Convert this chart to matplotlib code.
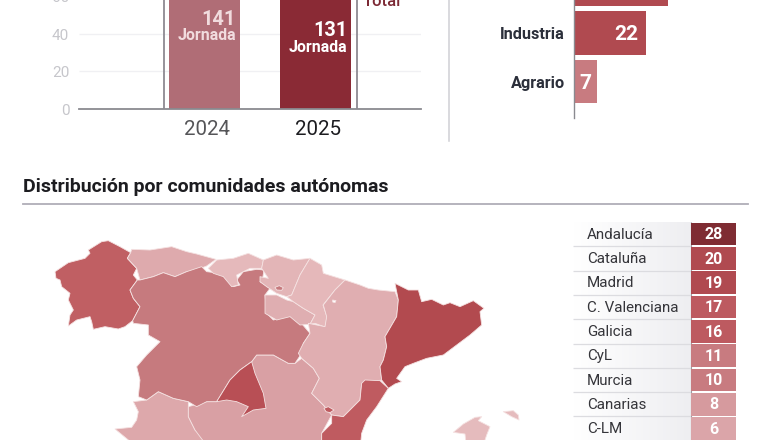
#!/usr/bin/env python3

import numpy as np
import matplotlib
matplotlib.use("Agg")
import matplotlib.pyplot as plt
from matplotlib.colors import LinearSegmentedColormap
from matplotlib.patches import Polygon

plt.rcParams["font.family"] = ["Roboto", "DejaVu Sans"]

W, H = 780, 440

# column chart
YEARS = ["2024", "2025"]
JORNADA = [141, 131]
TOTAL_TICKS = [0, 20, 40, 60]

# sector bars (top one is cut off by the crop)
SECTORS = ["", "Industria", "Agrario"]
SECTOR_VALUES = [29, 22, 7]
SECTOR_COLORS = ["#b04a50", "#b04a50", "#c87b80"]

# table
REGIONS = ["Andalucía", "Cataluña", "Madrid", "C. Valenciana", "Galicia",
           "CyL", "Murcia", "Canarias", "C-LM"]
REGION_VALUES = [28, 20, 19, 17, 16, 11, 10, 8, 6]
REGION_COLORS = ["#7f2c33", "#b04a50", "#b04a50", "#bd5a60", "#bd5a60",
                 "#c87b80", "#c87b80", "#d69a9e", "#dba5a9"]

# map outlines, traced in zoomed crop pixels (3x) with the crop origin
Z4 = (40, 230)
Z5 = (280, 230)
Z8 = (200, 245)

GALICIA = [(45, 125), (85, 98), (135, 85), (150, 70), (145, 60), (185, 35), (205, 32), (240, 50),
           (272, 68), (262, 85), (290, 115), (280, 135), (292, 150), (270, 180), (280, 205),
           (300, 230), (278, 272), (255, 290), (235, 297), (195, 290), (160, 298), (155, 275),
           (150, 260), (110, 270), (85, 288), (90, 255), (100, 240), (85, 210), (90, 190),
           (65, 170), (60, 150), (48, 145)]
ASTURIAS = [(272, 68), (275, 58), (330, 60), (395, 50), (440, 65), (470, 72), (528, 88), (500, 108),
            (470, 120), (440, 125), (405, 140), (370, 128), (340, 140), (300, 150), (290, 115),
            (262, 85)]
CYL = [(292, 150), (300, 150), (340, 140), (370, 128), (405, 140), (440, 125), (485, 110), (500, 125),
       (540, 130), (565, 150), (580, 170), (600, 165), (590, 150), (610, 125), (650, 118), (672, 120),
       (668, 145), (660, 155), (690, 175), (675, 195), (680, 250), (700, 270), (720, 265), (750, 258),
       (780, 275), (810, 310), (790, 340), (785, 370), (765, 400), (745, 400), (700, 375), (650, 375),
       (635, 395), (600, 420), (570, 450), (530, 515), (500, 515), (470, 530), (445, 515), (400, 505),
       (355, 485), (320, 510), (295, 500), (300, 450), (290, 410), (320, 375), (360, 335), (325, 315),
       (325, 285), (280, 280), (278, 272), (300, 230), (280, 205), (270, 180)]
MADRID = [(635, 395), (645, 430), (670, 490), (678, 535), (640, 540), (605, 560), (625, 530),
          (590, 515), (560, 510), (530, 515), (570, 450), (600, 420)]
EXTREMADURA = [(280, 515), (320, 510), (355, 485), (400, 505), (445, 515), (445, 560), (465, 600),
               (510, 640), (510, 660), (290, 660), (265, 630), (225, 597), (275, 592), (290, 570),
               (295, 545)]
CLM = [(445, 530), (500, 515), (530, 515), (635, 395), (650, 375), (700, 375), (745, 400), (765, 400),
       (785, 385), (820, 415), (838, 445), (815, 490), (850, 525), (875, 555), (845, 610),
       (845, 660), (510, 660), (465, 600), (445, 560)]
CANTABRIA = [(25, 70), (50, 45), (100, 40), (145, 25), (190, 45), (185, 70), (150, 70), (110, 90),
             (115, 120), (95, 125), (70, 95), (40, 85)]
PAIS_VASCO = [(190, 45), (230, 30), (280, 45), (330, 40), (300, 90), (275, 150), (260, 155), (230, 145),
              (200, 125), (180, 110), (180, 95), (205, 100), (185, 70)]
TREVINO = [(225, 127), (238, 122), (250, 128), (245, 136), (230, 135)]
RIOJA = [(195, 150), (230, 150), (260, 165), (280, 170), (310, 190), (345, 210), (330, 238), (300, 240),
         (270, 215), (230, 225), (195, 205)]
NAVARRA = [(330, 40), (365, 60), (370, 85), (435, 105), (405, 135), (369, 180), (381, 216), (375, 246),
           (345, 235), (330, 238), (345, 210), (310, 190), (280, 170), (260, 155), (275, 150), (300, 90)]
ARAGON = [(195, 150), (240, 165), (265, 175), (295, 180), (345, 185), (355, 210), (350, 260), (315, 320),
          (320, 350), (310, 390), (300, 410), (305, 450), (245, 460), (240, 510), (190, 560), (155, 555),
          (130, 525), (95, 490), (118, 445), (100, 415), (65, 385), (55, 370), (70, 340), (90, 310),
          (85, 280), (135, 290), (140, 260), (130, 225), (165, 180)]
ARAGON_HOLE = [(158, 210), (168, 212), (165, 218), (158, 216)]
CATALUNA = [(345, 160), (385, 180), (415, 180), (425, 215), (455, 208), (490, 225), (510, 218), (540, 230),
            (580, 212), (612, 235), (600, 245), (605, 285), (570, 315), (530, 345), (490, 375), (440, 385),
            (400, 400), (375, 410), (350, 445), (365, 455), (345, 462), (325, 475), (305, 450), (300, 410),
            (310, 390), (320, 350), (315, 320), (350, 260), (355, 210)]
VALENCIA = [(255, 450), (300, 452), (325, 475), (290, 530), (260, 570), (245, 610), (240, 660), (125, 660),
            (125, 610), (155, 580), (155, 555), (190, 560), (240, 510), (245, 460)]
ADEMUZ = [(132, 535), (145, 530), (162, 540), (150, 548), (138, 545)]
MALLORCA = [(520, 607), (550, 582), (585, 562), (605, 560), (595, 572), (630, 590), (620, 615), (605, 660),
            (560, 660), (555, 612)]
MENORCA = [(670, 545), (700, 542), (715, 555), (717, 570), (695, 560)]

MAP_SHAPES = [
    (GALICIA, Z4, "#c05f63"), (ASTURIAS, Z4, "#deaaad"), (EXTREMADURA, Z4, "#dda8ab"),
    (CLM, Z4, "#d9a0a4"), (CYL, Z4, "#c67a7e"), (MADRID, Z4, "#b84f55"),
    (CANTABRIA, Z8, "#e5b9bb"), (PAIS_VASCO, Z8, "#e3b5b7"), (TREVINO, Z8, "#c67a7e"),
    (RIOJA, Z8, "#dfaeb1"), (NAVARRA, Z8, "#e5b8ba"), (ARAGON, Z5, "#e0aeb1"),
    (ARAGON_HOLE, Z5, "#ffffff"), (CATALUNA, Z5, "#b24a4f"), (VALENCIA, Z5, "#bf5b60"),
    (ADEMUZ, Z5, "#bf5b60"), (MALLORCA, Z5, "#e5bbbd"), (MENORCA, Z5, "#e5bbbd"),
]


def px_axes(fig, left, top, right, bottom, **kwargs):
    # axes from a pixel box, y counted from the top of the image
    return fig.add_axes([left / W, 1 - bottom / H, (right - left) / W, (bottom - top) / H], **kwargs)


def from_zoom(points, origin):
    return [(origin[0] + x / 3, origin[1] + y / 3) for x, y in points]


def draw_columns(fig):
    # axes runs past the top of the image so the 60 tick gets cropped like the original
    ax = px_axes(fig, 79, -12, 421, 109)
    px_per_unit = 37.5 / 20
    pitch = 111
    ax.set_ylim(0, 121 / px_per_unit)
    ax.set_xlim((79 - 204.5) / pitch, (421 - 204.5) / pitch)
    ax.patch.set_alpha(0)

    ax.hlines(TOTAL_TICKS[1:], *ax.get_xlim(), color="#f0f0f3", linewidth=1, zorder=1)
    x = np.arange(len(YEARS))
    ax.bar(x, JORNADA, width=0.64, color=["#b06d76", "#8a2a35"], zorder=2)
    ax.vlines([-0.365, 1.37], 0, 121 / px_per_unit, color="#8e8a92", linewidth=1.3, zorder=3)

    for spine in ["top", "left", "right"]:
        ax.spines[spine].set_visible(False)
    ax.spines["bottom"].set_color("#8a8a90")
    ax.spines["bottom"].set_linewidth(1.3)
    ax.set_yticks(TOTAL_TICKS)
    ax.set_xticks(x + 2.5 / pitch)
    ax.set_xticklabels(YEARS, fontsize=14.8)
    ax.get_xticklabels()[0].set_color("#555558")
    ax.get_xticklabels()[1].set_color("#1c1c20")
    ax.tick_params(axis="x", length=0, pad=8)
    ax.tick_params(axis="y", length=0, pad=7, labelsize=11, labelcolor="#c6c6cb")


def draw_sectors(fig):
    ax = px_axes(fig, 574, 0, 780, 118)
    ax.set_xlim(0, 206 / 3.25)
    ax.set_ylim(2.75, 0.32)
    ax.axis("off")
    y = np.arange(len(SECTORS))
    ax.barh(y, SECTOR_VALUES, height=0.89, color=SECTOR_COLORS)
    ax.plot([0, 0], [0.32, 2.75], color="#8a8a90", linewidth=1, clip_on=False)
    for i in y[1:]:
        ax.text(-9 / 3.25, i + 0.04, SECTORS[i], ha="right", va="center", fontsize=11.7, fontweight="bold",
                color="#2b2f3a")
    ax.text(22 - 7 / 3.25, 1.04, str(SECTOR_VALUES[1]), ha="right", va="center", fontsize=15,
            fontweight="bold", color="white")
    ax.text(3.4, 2.04, str(SECTOR_VALUES[2]), ha="center", va="center", fontsize=15,
            fontweight="bold", color="white")


def draw_table(fig):
    ax = px_axes(fig, 573, 222, 736, 440)
    n = len(REGIONS)
    bottom = -0.5 + 218 / 24.3
    grad = np.linspace(0, 1, 64).reshape(1, -1)
    ax.imshow(grad, extent=(0, 118, bottom, -0.5), aspect="auto", zorder=0,
              cmap=LinearSegmentedColormap.from_list("fade", ["#ffffff", "#eeeef1"]))
    ax.set_xlim(0, 163)
    ax.set_ylim(bottom, -0.5)
    ax.axis("off")
    y = np.arange(n)
    ax.barh(y, [45] * n, left=118, height=0.93, color=REGION_COLORS, zorder=2)
    ax.hlines(y + 0.5, 0, 118, color="#dcdce0", linewidth=0.9, zorder=1)
    ax.vlines(118, -0.5, bottom, color="#9c9ca2", linewidth=0.8, zorder=1)
    for i, (name, val) in enumerate(zip(REGIONS, REGION_VALUES)):
        ax.text(14, i + 0.03, name, va="center", ha="left", fontsize=10.9, color="#35353a")
        ax.text(140.5, i + 0.03, str(val), va="center", ha="center", fontsize=11.5, fontweight="bold",
                color="white", zorder=3)


def main():
    fig = plt.figure(figsize=(W / 100, H / 100), dpi=100, facecolor="white")

    bg = fig.add_axes([0, 0, 1, 1])
    bg.set_xlim(0, W)
    bg.set_ylim(H, 0)
    bg.axis("off")

    for points, origin, color in MAP_SHAPES:
        bg.add_patch(Polygon(from_zoom(points, origin), closed=True, facecolor=color,
                             edgecolor="#f5e2e2", linewidth=0.6, joinstyle="round"))

    bg.text(23, 186.5, "Distribución por comunidades autónomas", fontsize=14, fontweight="bold",
            color="#1c1c20", va="center", ha="left")
    bg.plot([23, 748], [204, 204], color="#b0aeb8", linewidth=1.3)
    bg.plot([449, 449], [0, 141], color="#cfcfd4", linewidth=1.1)

    draw_columns(fig)
    draw_sectors(fig)
    draw_table(fig)

    # labels sit on top of the columns, placed in image pixels
    top = fig.add_axes([0, 0, 1, 1])
    top.set_xlim(0, W)
    top.set_ylim(H, 0)
    top.axis("off")
    top.text(236, 19.5, str(JORNADA[0]), ha="right", va="center", fontsize=14.3, fontweight="bold", color="#f1dcde")
    top.text(236, 35.5, "Jornada", ha="right", va="center", fontsize=11.4, fontweight="bold", color="#f1dcde")
    top.text(347, 31, str(JORNADA[1]), ha="right", va="center", fontsize=14.3, fontweight="bold", color="white")
    top.text(347, 47, "Jornada", ha="right", va="center", fontsize=11.4, fontweight="bold", color="white")
    top.text(363, 2, "Total", ha="left", va="center", fontsize=12, fontweight="medium", color="#7c2a35")

    fig.savefig("out.png", dpi=100)
    plt.close(fig)


if __name__ == "__main__":
    main()
